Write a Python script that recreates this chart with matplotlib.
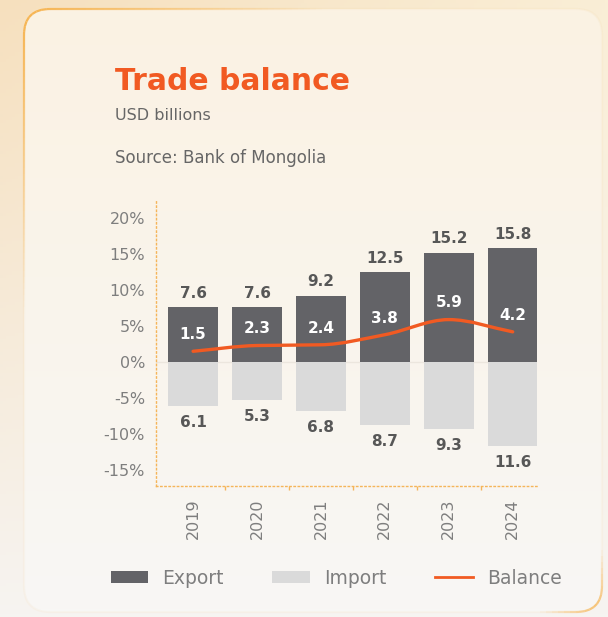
import matplotlib
matplotlib.use("Agg")
import matplotlib.pyplot as plt
import numpy as np
from matplotlib.patches import FancyBboxPatch, Patch, PathPatch
from matplotlib.path import Path
from matplotlib.lines import Line2D
from matplotlib.collections import LineCollection

# data, USD billions
years = ["2019", "2020", "2021", "2022", "2023", "2024"]
export = [7.6, 7.6, 9.2, 12.5, 15.2, 15.8]
imports = [6.1, 5.3, 6.8, 8.7, 9.3, 11.6]
balance = [1.5, 2.3, 2.4, 3.8, 5.9, 4.2]
yticks = [-15, -10, -5, 0, 5, 10, 15, 20]

ORANGE = "#F15A22"
DARK = "#636367"
LIGHT = "#DADADA"
GREY = "#7E7E7E"
FONT = "DejaVu Sans"
plt.rcParams["font.family"] = FONT

W, H = 608, 617
fig = plt.figure(figsize=(W / 100, H / 100), dpi=100)

# background + card
bg = fig.add_axes([0, 0, 1, 1], zorder=0)
bg.axis("off")
yy, xx = np.mgrid[0:1:200j, 0:1:200j]
c_tl = np.array([246, 224, 190]) / 255
c_tr = np.array([250, 238, 214]) / 255
c_b = np.array([246, 244, 241]) / 255
top = c_tl * (1 - xx[..., None]) + c_tr * xx[..., None]
grad = top * (1 - yy[..., None]) + c_b * yy[..., None]
bg.imshow(grad, extent=[0, W, H, 0], aspect="auto", zorder=0)

card = FancyBboxPatch((24, 9), 578, 603, boxstyle="round,pad=0,rounding_size=26",
                      facecolor="none", edgecolor="none", zorder=3)
bg.add_patch(card)
t = np.linspace(0, 1, 200)[:, None, None]
c1 = np.array([251, 242, 227]) / 255
c2 = np.array([248, 247, 245]) / 255
cimg = c1 * (1 - t) + c2 * t
im = bg.imshow(np.repeat(cimg, 2, axis=1), extent=[24, 602, 612, 9], aspect="auto", zorder=1)
im.set_clip_path(card)

# card border, strong at top-left corner and fading away from it
poly = np.vstack(card.get_path().to_polygons())
segs = []
for a, b in zip(poly[:-1], poly[1:]):
    n = max(int(np.hypot(*(b - a)) / 6), 1)
    pts = a + (b - a) * np.linspace(0, 1, n + 1)[:, None]
    segs += [pts[k:k + 2] for k in range(n)]
segs = np.array(segs)
mid = segs.mean(axis=1)
d1 = np.hypot(mid[:, 0] - 24, mid[:, 1] - 9)
d2 = np.hypot(mid[:, 0] - 602, mid[:, 1] - 612)
alpha = np.clip(np.maximum(1 - d1 / 320, 0.85 - d2 / 80), 0.05, 1)
cols = np.zeros((len(segs), 4))
cols[:, :3] = np.array([246, 180, 80]) / 255
cols[:, 3] = alpha
bg.add_collection(LineCollection(segs, colors=cols, linewidths=1.6, zorder=3,
                                 capstyle="butt"), autolim=False)
bg.set_xlim(0, W)
bg.set_ylim(H, 0)

# titles
fig.text(115 / W, 1 - 81 / H, "Trade balance", color=ORANGE, fontsize=21.5,
         fontweight="bold", va="center", ha="left")
fig.text(115 / W, 1 - 116 / H, "USD billions", color="#666666", fontsize=11.5,
         va="center", ha="left")
fig.text(115 / W, 1 - 158 / H, "Source: Bank of Mongolia", color="#666666", fontsize=12,
         va="center", ha="left")

# chart
ax = fig.add_axes([156 / W, 1 - 486 / H, (537 - 156) / W, (486 - 200) / H], zorder=2)
ax.patch.set_alpha(0)
x = np.arange(len(years))
ax.bar(x, export, width=0.78, color=DARK, zorder=2)
ax.bar(x, [-v for v in imports], width=0.78, color=LIGHT, zorder=2)
ax.axhline(0, color="#ECE6DE", lw=1, zorder=1)

# smooth (monotone cubic) path through the balance points
yb = np.array(balance, dtype=float)
xb = x.astype(float)
dx = np.diff(xb)
sl = np.diff(yb) / dx
m = np.zeros_like(yb)
m[0], m[-1] = sl[0], sl[-1]
for i in range(1, len(yb) - 1):
    m[i] = 0 if sl[i - 1] * sl[i] <= 0 else 2 / (1 / sl[i - 1] + 1 / sl[i])
pv = [(xb[0], yb[0])]
codes = [Path.MOVETO]
for i in range(len(yb) - 1):
    h = dx[i] / 3
    pv += [(xb[i] + h, yb[i] + m[i] * h), (xb[i + 1] - h, yb[i + 1] - m[i + 1] * h), (xb[i + 1], yb[i + 1])]
    codes += [Path.CURVE4] * 3
ax.add_patch(PathPatch(Path(pv, codes), facecolor="none", edgecolor=ORANGE, lw=2.4,
                       capstyle="round", zorder=3))

for i in range(len(years)):
    ax.annotate(f"{export[i]}", (x[i], export[i]), xytext=(0, 10), textcoords="offset points",
                ha="center", va="center", color="#575757", fontsize=11, fontweight="bold")
    ax.annotate(f"{imports[i]}", (x[i], -imports[i]), xytext=(0, -12), textcoords="offset points",
                ha="center", va="center", color="#575757", fontsize=11, fontweight="bold")
    ax.annotate(f"{balance[i]}", (x[i], balance[i]), xytext=(0, 12), textcoords="offset points",
                ha="center", va="center", color="white", fontsize=11, fontweight="bold",
                zorder=4)

ax.set_xlim(-0.58, 5.38)
ax.set_ylim(-17.2, 22.5)
ax.set_yticks(yticks)
ax.set_yticklabels([f"{t}%" for t in yticks], color=GREY, fontsize=11.5)
ax.set_xticks(x)
ax.set_xticklabels(years, rotation=90, color=GREY, fontsize=11.5)
ax.set_xticks(x[:-1] + 0.5, minor=True)
ax.tick_params(axis="y", length=0, pad=8)
ax.tick_params(axis="x", which="major", length=0, pad=9)
ax.tick_params(axis="x", which="minor", length=3, color="#F5B55A", width=1)
for s in ["top", "right"]:
    ax.spines[s].set_visible(False)
for s in ["left", "bottom"]:
    ax.spines[s].set_color("#F5B55A")
    ax.spines[s].set_linestyle((0, (1, 2)))
    ax.spines[s].set_linewidth(1)

handles = [Patch(facecolor=DARK, label="Export"),
           Patch(facecolor=LIGHT, label="Import"),
           Line2D([], [], color=ORANGE, lw=2, label="Balance")]
fig.legend(handles=handles, loc="center", bbox_to_anchor=(336 / W, 1 - 578 / H), ncol=3,
           frameon=False, handlelength=2.0, handleheight=0.65, handletextpad=0.75,
           columnspacing=2.6, prop={"size": 13.5}, labelcolor=GREY)

fig.savefig("out.png", dpi=100)
